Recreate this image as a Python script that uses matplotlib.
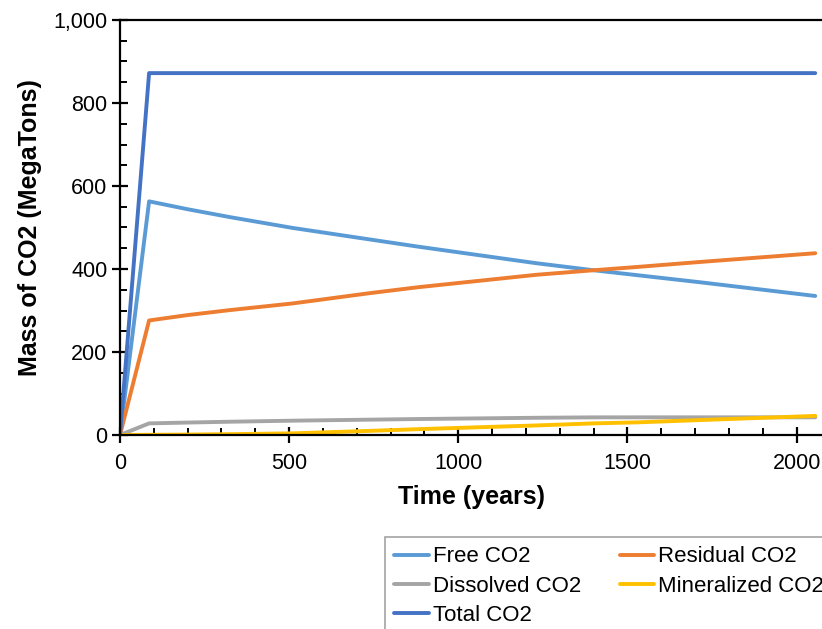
import matplotlib
matplotlib.use("Agg")
import matplotlib.pyplot as plt
from matplotlib.ticker import MultipleLocator, FuncFormatter

plt.rcParams['font.family'] = ['Liberation Sans', 'DejaVu Sans']

# Simulation output: mass of CO2 in each trapping state over time
time_years = [0, 86, 200, 325, 510, 740, 880, 1055, 1230, 1400, 1530, 1715, 2055]
free_co2 = [0, 563, 544, 525, 499, 471, 454, 434, 414, 397, 385, 368, 335]
residual_co2 = [0, 276, 289, 301, 317, 342, 356, 371, 386, 397, 405, 417, 438]
dissolved_co2 = [0, 28, 30, 32, 34.5, 37, 38.5, 40, 41.5, 42.5, 42.6, 42.6, 42.6]
mineralized_co2 = [0, 0.5, 1, 2, 4, 10, 14, 18.5, 23, 28, 30.5, 36, 46]
total_co2 = [0, 872, 872, 872, 872, 872, 872, 872, 872, 872, 872, 872, 872]

series = [
    ("Free CO2", free_co2, "#5B9BD5"),
    ("Residual CO2", residual_co2, "#ED7D31"),
    ("Dissolved CO2", dissolved_co2, "#A5A5A5"),
    ("Mineralized CO2", mineralized_co2, "#FFC000"),
    ("Total CO2", total_co2, "#4472C4"),
]

fig = plt.figure(figsize=(8.22, 6.29), dpi=100)
ax = fig.add_axes([120 / 822, 1 - 435 / 629, 1 - 120 / 822, (435 - 20) / 629])

handles = {}
for name, values, color in series:
    (ln,) = ax.plot(time_years, values, color=color, lw=2.8,
                    solid_joinstyle="round", solid_capstyle="round", label=name)
    handles[name] = ln

ax.set_xlim(0, 2075)
ax.set_ylim(0, 1000)

ax.xaxis.set_major_locator(MultipleLocator(500))
ax.xaxis.set_minor_locator(MultipleLocator(100))
ax.yaxis.set_major_locator(MultipleLocator(200))
ax.yaxis.set_minor_locator(MultipleLocator(50))
ax.yaxis.set_major_formatter(FuncFormatter(lambda v, p: f"{int(v):,}"))

ax.tick_params(which="major", direction="inout", length=12, width=1.6,
               labelsize=15.5, colors="black", pad=3)
ax.tick_params(which="minor", direction="in", length=5, width=1.4)
ax.tick_params(axis="x", which="major", pad=7)

for side in ("left", "bottom", "top"):
    ax.spines[side].set_linewidth(1.6)
    ax.spines[side].set_color("black")
ax.spines["right"].set_visible(False)

ax.set_xlabel("Time (years)", fontsize=18, fontweight="bold", labelpad=8)
ax.set_ylabel("Mass of CO2 (MegaTons)", fontsize=18, fontweight="bold", labelpad=8)

order = ["Free CO2", "Dissolved CO2", "Total CO2", "Residual CO2", "Mineralized CO2"]
leg = fig.legend([handles[n] for n in order], order, ncol=2,
                 loc="upper left", bbox_to_anchor=(385 / 822, 1 - 537 / 629),
                 fontsize=16, frameon=True, fancybox=False,
                 handlelength=1.55, handletextpad=0.18, columnspacing=1.75,
                 labelspacing=0.38, borderpad=0.42, borderaxespad=0)
leg.get_frame().set_edgecolor("#8C8C8C")
leg.get_frame().set_linewidth(1.2)

fig.savefig("out.png", dpi=100)
